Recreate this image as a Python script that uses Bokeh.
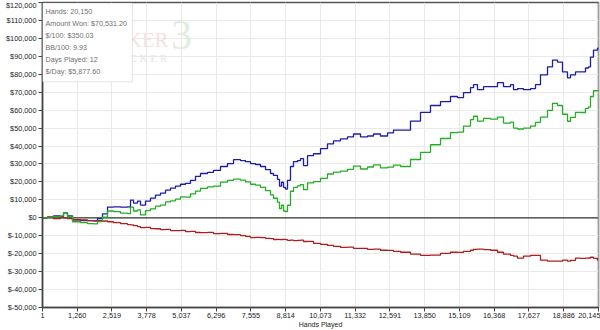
from bokeh.plotting import figure
from bokeh.models import Range1d, FixedTicker, Span, BoxAnnotation, Label
from bokeh.embed import file_html
from bokeh.resources import INLINE

# ---------------- data ----------------
hands = [1, 182, 400, 653, 762, 907, 1088, 1378, 1632, 1849,
         1994, 2175, 2357, 2574, 2828, 3081, 3190, 3299, 3444, 3553,
         3734, 3915, 4096, 4277, 4459, 4640, 4821, 5002, 5183, 5365,
         5546, 5727, 5981, 6198, 6452, 6705, 6923, 7177, 7358, 7539,
         7720, 7901, 8083, 8264, 8373, 8517, 8590, 8662, 8735, 8807,
         8880, 8988, 9097, 9242, 9351, 9460, 9605, 9822, 10076, 10329,
         10547, 10800, 11054, 11272, 11525, 11779, 11996, 12250, 12504, 12721,
         12975, 13337, 13700, 14062, 14425, 14787, 15041, 15258, 15512, 15621,
         15765, 15983, 16236, 16490, 16707, 16961, 17070, 17215, 17432, 17686,
         17867, 18048, 18302, 18483, 18664, 18845, 19026, 19135, 19316, 19497,
         19678, 19787, 19860, 19968, 20113, 20150]

showdown_won = [0, 500, 1100, 500, 2700, 1100, -1100, -1600, -1600, -1700,
                -500, 2200, 6000, 6100, 5900, 6100, 9900, 8200, 9300, 7100,
                9300, 11000, 12600, 13700, 15400, 16500, 17600, 18700, 19200, 20900,
                23100, 24700, 25300, 26400, 28600, 30200, 32400, 31900, 31300, 30200,
                29700, 28600, 26900, 24700, 23600, 21400, 17600, 19800, 17000, 16000,
                20900, 28600, 31300, 31900, 33000, 29100, 34600, 35700, 38500, 41200,
                42900, 44000, 45100, 46700, 45100, 45600, 46700, 45600, 47300, 48900,
                48900, 53900, 58800, 62600, 64800, 67600, 67000, 69800, 72500, 74200,
                71400, 73100, 73100, 75300, 73100, 74200, 71400, 72000, 71400, 72000,
                74200, 79700, 84100, 87900, 86800, 81300, 78000, 79700, 81300, 81300,
                83500, 84100, 89600, 93400, 94500, 94100]

non_showdown_won = [0, 200, -500, 500, 0, -500, -1100, -1200, -1600, -1700,
                    -1600, -1800, -2200, -2700, -3300, -3800, -3900, -4400, -4900, -5500,
                    -5300, -6000, -6100, -6600, -6500, -7100, -7200, -7000, -7700, -7600,
                    -8200, -8300, -8100, -8800, -8700, -9300, -9400, -9900, -10400, -11000,
                    -10900, -11100, -11500, -11600, -12100, -12000, -12200, -12100, -12000, -12200,
                    -12600, -12500, -12700, -12600, -12500, -13200, -13100, -14300, -14800, -15400,
                    -15900, -16500, -16400, -17000, -17100, -17600, -17500, -18100, -18200, -18700,
                    -19200, -20300, -20900, -20800, -19800, -19200, -19300, -18700, -18100, -17600,
                    -17500, -17700, -18100, -19200, -20300, -20900, -21400, -22500, -21400, -20900,
                    -21000, -23600, -24200, -24100, -24200, -23600, -24200, -23700, -22500, -22600,
                    -22500, -22400, -22000, -22600, -23600, -23600]

amount_won = [0, 500, 600, 1100, 2700, 600, -2200, -2700, -3300, -3400,
              -2100, 400, 3800, 3400, 2600, 2300, 6000, 3800, 4400, 1600,
              4000, 5000, 6500, 7100, 8900, 9400, 10400, 11700, 11500, 13300,
              14900, 16400, 17200, 17600, 19900, 20900, 21500, 21000, 20000, 18700,
              18200, 17000, 15100, 12800, 10900, 8700, 5100, 7000, 3800, 3500,
              7000, 14800, 17000, 17800, 18500, 15700, 19500, 20200, 22000, 24400,
              25500, 26000, 27000, 28800, 27200, 28300, 29500, 27800, 28200, 29400,
              28600, 32500, 36500, 40700, 44200, 47500, 47700, 51100, 54700, 56600,
              53900, 55400, 55000, 56100, 52800, 53300, 50000, 49500, 50000, 51100,
              53200, 56100, 59900, 63800, 62600, 57700, 53800, 56000, 58800, 58700,
              61000, 61700, 67600, 70800, 70900, 70500]

x_ticks = [1, 1260, 2519, 3778, 5037, 6296, 7555, 8814, 10073, 11332,
           12591, 13850, 15109, 16368, 17627, 18886, 20145]
x_tick_labels = ["1", "1,260", "2,519", "3,778", "5,037", "6,296", "7,555", "8,814",
                 "10,073", "11,332", "12,591", "13,850", "15,109", "16,368",
                 "17,627", "18,886", "20,145"]

y_ticks = [-50000, -40000, -30000, -20000, -10000, 0, 10000, 20000, 30000,
           40000, 50000, 60000, 70000, 80000, 90000, 100000, 110000, 120000]
y_tick_labels = ["$-50,000", "$-40,000", "$-30,000", "$-20,000", "$-10,000", "$0",
                 "$10,000", "$20,000", "$30,000", "$40,000", "$50,000", "$60,000",
                 "$70,000", "$80,000", "$90,000", "$100,000", "$110,000", "$120,000"]

info_lines = ["Hands: 20,150", "Amount Won: $70,531.20", "$/100: $350.03",
              "BB/100: 9.93", "Days Played: 12", "$/Day: $5,877.60"]
x_title = "Hands Played"

# ---------------- figure ----------------
p = figure(width=600, height=330, output_backend="svg", toolbar_location=None,
           x_range=Range1d(1, 20150), y_range=Range1d(-50000, 120000),
           min_border_left=42, min_border_right=2, min_border_top=2, min_border_bottom=8)
p.background_fill_color = "white"
p.border_fill_color = "white"
p.outline_line_color = "#555555"
p.outline_line_width = 1.5

font = "Liberation Sans"
for ax in (p.xaxis[0], p.yaxis[0]):
    ax.major_label_text_font = font
    ax.major_label_text_font_size = "7.3px"
    ax.major_label_text_color = "#222222"
    ax.axis_line_color = "#444444"
    ax.axis_line_width = 1.5
    ax.major_tick_line_color = "#444444"
    ax.major_tick_in = 0
    ax.major_tick_out = 4
    ax.minor_tick_line_color = None

p.xaxis.ticker = FixedTicker(ticks=x_ticks)
p.yaxis.ticker = FixedTicker(ticks=y_ticks)
p.xaxis.major_label_overrides = {t: l for t, l in zip(x_ticks, x_tick_labels)}
p.yaxis.major_label_overrides = {t: l for t, l in zip(y_ticks, y_tick_labels)}
p.xaxis.major_label_standoff = 1
p.yaxis.major_label_standoff = 2

p.xaxis.axis_label = x_title
p.xaxis.axis_label_standoff = 0
p.xaxis.axis_label_text_font = font
p.xaxis.axis_label_text_font_size = "7px"
p.xaxis.axis_label_text_font_style = "normal"
p.xaxis.axis_label_text_color = "#222222"

p.xgrid.grid_line_color = "#e9e9e9"
p.ygrid.grid_line_color = "#e9e9e9"

p.add_layout(Span(location=0, dimension="width", line_color="#333333",
                  line_width=1.2, level="underlay"))

# ---------------- series ----------------
p.step(hands, showdown_won, mode="after", line_color="#1c1ca4", line_width=1.3)
p.step(hands, non_showdown_won, mode="after", line_color="#b21c1c", line_width=1.3)
p.step(hands, amount_won, mode="after", line_color="#25ad25", line_width=1.3)

# ---------------- watermark ----------------
p.add_layout(Label(x=4567, y=98900, text="POKER", text_align="right",
                   text_baseline="alphabetic", text_font="Liberation Serif",
                   text_font_size="21px", text_color="#f4e2e2"))
p.add_layout(Label(x=4567, y=89000, text="T R A C K E R", text_align="right",
                   text_baseline="alphabetic", text_font="Liberation Serif",
                   text_font_size="11px", text_color="#e6e6e6"))
p.add_layout(Label(x=5038, y=101700, text="3", text_align="center",
                   text_baseline="middle", text_font="Liberation Serif",
                   text_font_size="42px", text_color="#e0eee0"))

# ---------------- info box ----------------
p.add_layout(BoxAnnotation(left=1, right=3260, top=119700, bottom=75800,
                           fill_color="white", fill_alpha=1.0,
                           line_color="#a8a8a8", line_width=1))
for i, t in enumerate(info_lines):
    p.add_layout(Label(x=110, y=115000 - i * 6700, text=t, text_align="left",
                       text_baseline="middle", text_font=font,
                       text_font_size="7.2px", text_color="#707070"))

open("out.html", "w").write(file_html(p, INLINE))
